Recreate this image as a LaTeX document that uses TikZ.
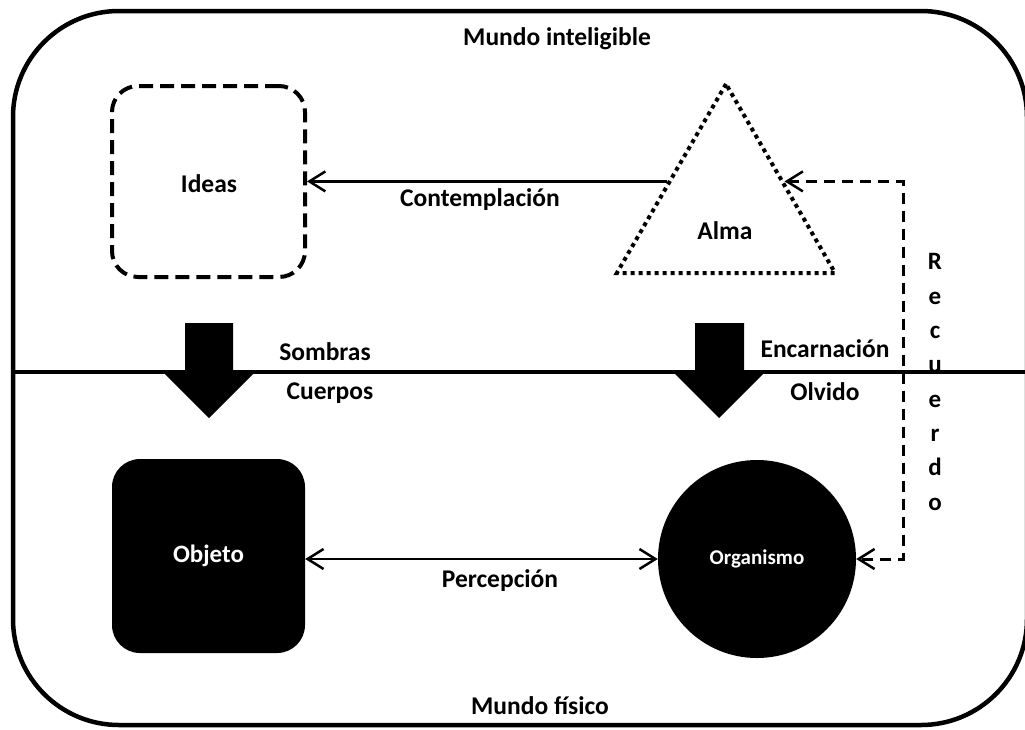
\documentclass[tikz,border=0pt]{standalone}
\usepackage{fontspec}
\setmainfont{Carlito}
\usetikzlibrary{shapes.geometric,arrows.meta,calc}

\tikzset{
  txt/.style={font=\fontsize{25.5}{30}\selectfont\bfseries, inner sep=0pt},
  frame/.style={line width=4.5pt},
  ideabox/.style={draw, line width=4pt, rounded corners=26pt, dash pattern=on 14pt off 7pt,
    minimum width=193pt, minimum height=191pt, inner sep=0pt},
  soulshape/.style={draw, regular polygon, regular polygon sides=3, line width=4pt,
    dash pattern=on 4pt off 4pt, minimum size=252pt, inner sep=0pt},
  objbox/.style={fill=black, rounded corners=28pt, minimum width=193pt, minimum height=194pt,
    inner sep=0pt, text=white, font=\fontsize{25}{30}\selectfont\bfseries},
  orgshape/.style={fill=black, circle, minimum size=198pt, inner sep=0pt, text=white,
    font=\fontsize{21}{25}\selectfont\bfseries},
  barb/.tip={Straight Barb[length=16pt,width=20pt,line width=2.5pt]},
  link/.style={line width=2.5pt, {barb}-{barb}},
  onelink/.style={line width=2.5pt, -{barb}},
  memlink/.style={line width=3pt, dash pattern=on 11pt off 7pt, {barb}-{barb}},
  blockarrow/.style={fill=black}
}

\begin{document}
\begin{tikzpicture}[x=1pt,y=-1pt]
  \useasboundingbox (0,0) rectangle (1025,729);

  % outer frame and the divide between both worlds
  \draw[frame, rounded corners=106pt] (13,11) rectangle (1027,725);
  \draw[frame] (13,372) -- (1027,372);

  % world titles
  \node[txt] (inteligible) at (557,39) {Mundo inteligible};
  \node[txt] (fisico) at (540,706) {Mundo físico};

  % upper world
  \node[ideabox] (ideas) at (208.5,181.5) {};
  \node[txt] (ideastxt) at (209,184) {Ideas};
  \node[soulshape] (alma) at (726,210) {};
  \node[txt] (almatxt) at (725,231) {Alma};

  \coordinate (almaL) at ($(alma.corner 1)!0.52!(alma.corner 2)$);
  \coordinate (almaR) at ($(alma.corner 1)!0.52!(alma.corner 3)$);
  \draw[onelink] (almaL) -- (ideas.east |- almaL);
  \node[txt] (contemplacion) at (480,200) {Contemplación};

  % lower world
  \node[objbox] (objeto) at (208.5,556) {Objeto};
  \node[orgshape] (organismo) at (757,559) {Organismo};
  \draw[link] (objeto.east |- organismo.center) -- (organismo.west);
  \node[txt] (percepcion) at (500,581) {Percepción};

  % recollection path from the body back to the soul
  \coordinate (rx) at (903,0);
  \draw[memlink] (almaR) -- (almaR -| rx) -- (organismo.east -| rx) -- (organismo.east);
  \node[txt, align=center, font=\fontsize{25}{34.3}\selectfont\bfseries] (recuerdo) at (935,382)
    {R\\e\\c\\u\\e\\r\\d\\o};

  % descending block arrows across the divide
  \fill[blockarrow] (185,323) -- (233,323) -- (233,372) -- (255,372) -- (209,418)
    -- (163,372) -- (185,372) -- cycle;
  \fill[blockarrow] (695,323) -- (744,323) -- (744,372) -- (765,372) -- (719,418)
    -- (673,372) -- (695,372) -- cycle;

  \node[txt] (sombras) at (325,352) {Sombras};
  \node[txt] (cuerpos) at (330,393) {Cuerpos};
  \node[txt] (encarnacion) at (825,349) {Encarnación};
  \node[txt] (olvido) at (825,392) {Olvido};
\end{tikzpicture}
\end{document}
